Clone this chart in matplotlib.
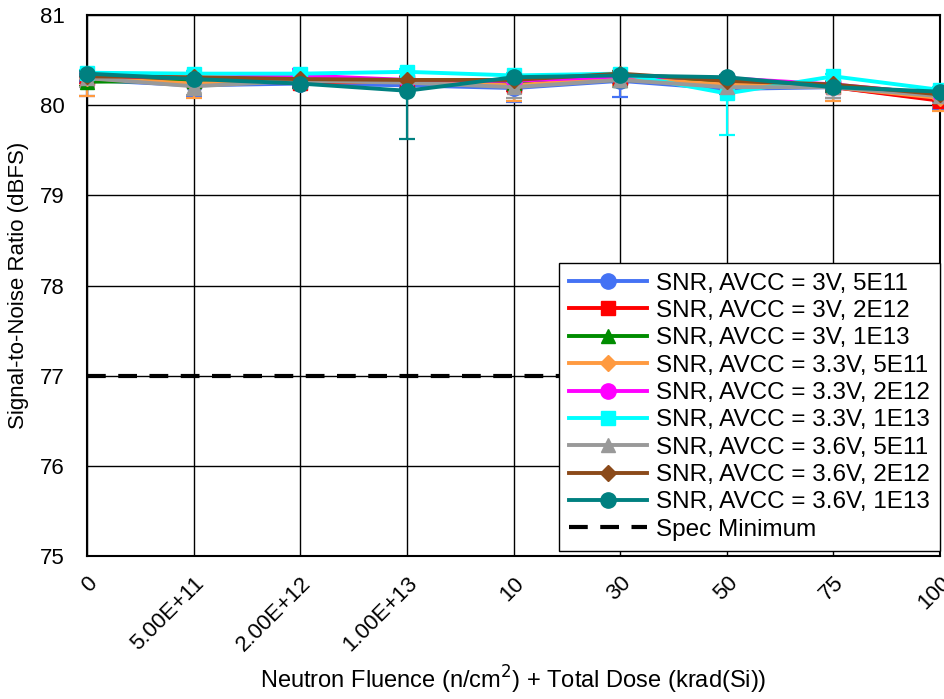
import matplotlib
matplotlib.use("Agg")
import matplotlib.pyplot as plt
from matplotlib.lines import Line2D

plt.rcParams['font.family'] = ['Liberation Sans', 'DejaVu Sans']

# x categories
tick_labels = ["0", "5.00E+11", "2.00E+12", "1.00E+13", "10", "30", "50", "75", "100"]

# SNR values (dBFS)
snr_3v_5e11 = [80.28, 80.22, 80.24, 80.22, 80.19, 80.27, 80.18, 80.20, 80.06]
snr_3v_2e12 = [80.30, 80.27, 80.25, 80.26, 80.21, 80.30, 80.24, 80.20, 80.05]
snr_3v_1e13 = [80.26, 80.27, 80.27, 80.27, 80.25, 80.28, 80.25, 80.22, 80.10]
snr_33v_5e11 = [80.30, 80.24, 80.27, 80.26, 80.22, 80.30, 80.23, 80.20, 80.08]
snr_33v_2e12 = [80.33, 80.30, 80.33, 80.28, 80.27, 80.32, 80.30, 80.23, 80.12]
snr_33v_1e13 = [80.36, 80.35, 80.35, 80.37, 80.33, 80.35, 80.13, 80.32, 80.17]
snr_36v_5e11 = [80.30, 80.21, 80.27, 80.25, 80.20, 80.28, 80.20, 80.20, 80.10]
snr_36v_2e12 = [80.32, 80.31, 80.29, 80.28, 80.28, 80.35, 80.27, 80.23, 80.12]
snr_36v_1e13 = [80.35, 80.29, 80.24, 80.16, 80.31, 80.33, 80.31, 80.20, 80.15]

# error bars (below, above)
err_3v_5e11 = ([0.18, 0.13, 0.05, 0.05, 0.16, 0.18, 0.06, 0.12, 0.10], [0.03] * 9)
err_3v_2e12 = ([0.05, 0.05, 0.05, 0.05, 0.05, 0.05, 0.05, 0.05, 0.05], [0.03] * 9)
err_3v_1e13 = ([0.05, 0.05, 0.05, 0.05, 0.05, 0.05, 0.05, 0.05, 0.05], [0.03] * 9)
err_33v_5e11 = ([0.20, 0.16, 0.05, 0.05, 0.17, 0.08, 0.05, 0.15, 0.15], [0.03, 0.14, 0.03, 0.03, 0.03, 0.03, 0.03, 0.03, 0.03])
err_33v_2e12 = ([0.05, 0.05, 0.05, 0.05, 0.05, 0.05, 0.05, 0.05, 0.05], [0.03, 0.03, 0.07, 0.03, 0.03, 0.03, 0.03, 0.03, 0.03])
err_33v_1e13 = ([0.05, 0.05, 0.05, 0.05, 0.05, 0.05, 0.46, 0.05, 0.05], [0.03] * 9)
err_36v_5e11 = ([0.10, 0.10, 0.05, 0.05, 0.12, 0.08, 0.05, 0.12, 0.12], [0.03] * 9)
err_36v_2e12 = ([0.05, 0.05, 0.05, 0.05, 0.05, 0.05, 0.05, 0.05, 0.05], [0.03] * 9)
err_36v_1e13 = ([0.05, 0.05, 0.05, 0.54, 0.05, 0.05, 0.05, 0.05, 0.05], [0.03] * 9)

spec_min = 77

series = [
    ("SNR, AVCC = 3V, 5E11", snr_3v_5e11, err_3v_5e11, "#4472F4", "o"),
    ("SNR, AVCC = 3V, 2E12", snr_3v_2e12, err_3v_2e12, "#FF0000", "s"),
    ("SNR, AVCC = 3V, 1E13", snr_3v_1e13, err_3v_1e13, "#008C00", "^"),
    ("SNR, AVCC = 3.3V, 5E11", snr_33v_5e11, err_33v_5e11, "#FF9A40", "D"),
    ("SNR, AVCC = 3.3V, 2E12", snr_33v_2e12, err_33v_2e12, "#FF00FF", "o"),
    ("SNR, AVCC = 3.3V, 1E13", snr_33v_1e13, err_33v_1e13, "#00FFFF", "s"),
    ("SNR, AVCC = 3.6V, 5E11", snr_36v_5e11, err_36v_5e11, "#999999", "^"),
    ("SNR, AVCC = 3.6V, 2E12", snr_36v_2e12, err_36v_2e12, "#8B4A1A", "D"),
    ("SNR, AVCC = 3.6V, 1E13", snr_36v_1e13, err_36v_1e13, "#008080", "o"),
]

fig = plt.figure(figsize=(9.44, 6.99), dpi=100)
ax = fig.add_axes([0.0922, 0.2046, 0.9036, 0.7739])

x = list(range(len(tick_labels)))
handles = []
for label, vals, err, color, mk in series:
    ms = {"o": 11, "s": 10.5, "^": 10, "D": 8}[mk]
    ax.errorbar(x, vals, yerr=[err[0], err[1]], color=color, marker=mk,
                markersize=ms, linewidth=2.8, elinewidth=1.6, capsize=6,
                capthick=1.6, clip_on=False, zorder=3)
    handles.append(Line2D([], [], color=color, marker=mk, markersize=ms,
                          linewidth=2.8, label=label))

spec_line, = ax.plot([x[0], x[-1]], [spec_min, spec_min], color="black",
                     linestyle=(0, (4.5, 3)), linewidth=3, label="Spec Minimum", zorder=2)
handles.append(spec_line)

ax.set_xlim(0, 8)
ax.set_ylim(75, 81)
ax.set_yticks([75, 76, 77, 78, 79, 80, 81])
ax.set_xticks(x)
ax.set_xticklabels(tick_labels, rotation=45, ha="right", rotation_mode="anchor")
ax.tick_params(axis="both", labelsize=16, length=0)
ax.tick_params(axis="y", pad=16)
ax.tick_params(axis="x", pad=12)
ax.grid(True, color="black", linewidth=1)
for s in ax.spines.values():
    s.set_linewidth(1.5)

ax.set_ylabel("Signal-to-Noise Ratio (dBFS)", fontsize=16, labelpad=8)
ax.set_xlabel("Neutron Fluence (n/cm$^2$) + Total Dose (krad(Si))", fontsize=17, labelpad=6)

leg = ax.legend(handles=handles, loc="lower right", bbox_to_anchor=(1.0, 0.01), borderaxespad=0,
                fontsize=17.5, handlelength=3.2, labelspacing=0.22, handletextpad=0.4,
                fancybox=False, framealpha=1, borderpad=0.4)
leg.get_frame().set_edgecolor("black")
leg.get_frame().set_linewidth(1)

fig.savefig("out.png", dpi=100)
